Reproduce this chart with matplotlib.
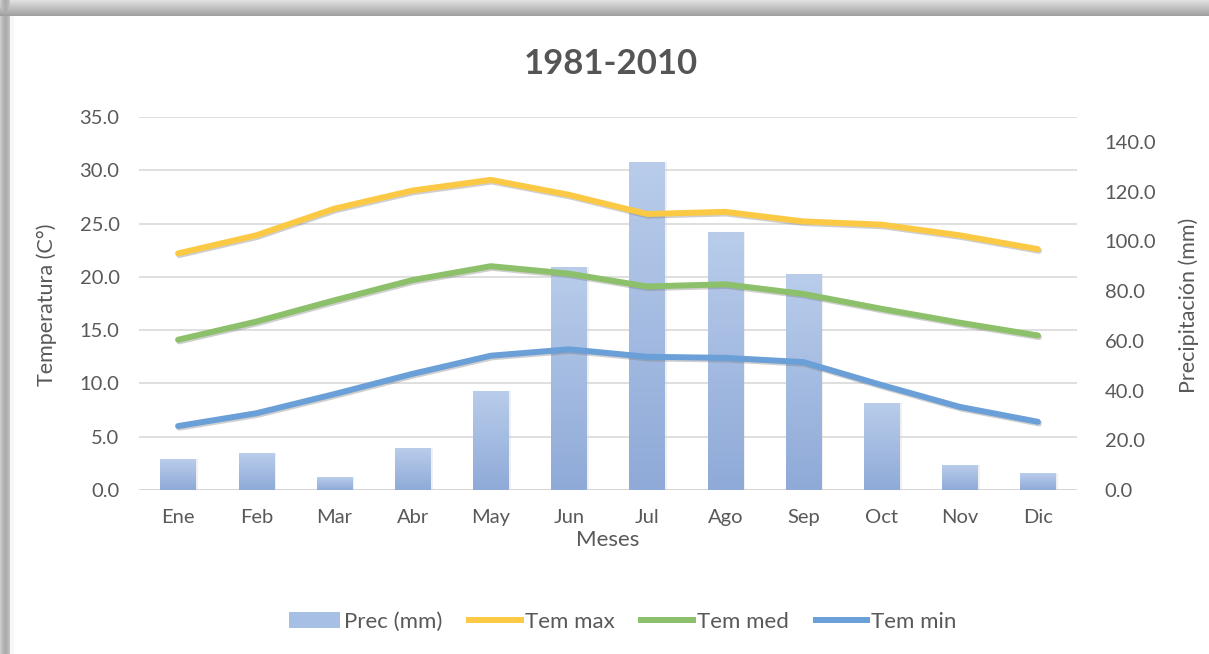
import numpy as np
import matplotlib
matplotlib.use("Agg")
import matplotlib.pyplot as plt
from matplotlib.lines import Line2D
from matplotlib.patches import Patch
from matplotlib.colors import LinearSegmentedColormap
import matplotlib.patheffects as pe

months = ["Ene", "Feb", "Mar", "Abr", "May", "Jun", "Jul", "Ago", "Sep", "Oct", "Nov", "Dic"]
prec = [12.4, 14.7, 5.1, 16.7, 39.9, 89.7, 131.9, 103.7, 87.0, 34.8, 10.0, 6.7]
tmax = [22.2, 23.9, 26.4, 28.1, 29.1, 27.7, 25.9, 26.1, 25.2, 24.9, 23.9, 22.6]
tmed = [14.1, 15.8, 17.8, 19.7, 21.0, 20.3, 19.1, 19.3, 18.4, 17.0, 15.7, 14.5]
tmin = [6.0, 7.2, 9.0, 10.9, 12.6, 13.2, 12.5, 12.4, 12.0, 9.85, 7.8, 6.4]
temp_ticks = [0, 5, 10, 15, 20, 25, 30, 35]
prec_ticks = [0, 20, 40, 60, 80, 100, 120, 140]

plt.rcParams['font.family'] = ['Lato', 'DejaVu Sans']
TXT = "#595959"
W, H = 1209, 654
fig = plt.figure(figsize=(W / 100, H / 100), dpi=100)

# background frame with soft shadow
bg = fig.add_axes([0, 0, 1, 1])
rows = np.arange(H)[:, None]
cols = np.arange(W)[None, :]
top = np.where(rows < 16, 0.88 - 0.25 * (rows / 15.0), 1.0)
left = np.where(cols < 10, 0.80 - 0.12 * np.sin(np.pi * cols / 10.0), 1.0)
shade = np.minimum(top, left)
shade = np.minimum(shade, np.where((cols >= 10) & (cols < 14) & (rows >= 16), 0.97, 1.0))
img = np.repeat(shade[:, :, None], 3, axis=2)
bg.imshow(img, extent=[0, 1, 0, 1], aspect='auto')
bg.axis('off')

rect = [139 / W, 1 - 490 / H, (1077 - 139) / W, (490 - 117) / H]
ax = fig.add_axes(rect)
ax2 = ax.twinx()
ax3 = ax.twinx()

x = np.arange(len(months))
TS = 14.5

# left axis: grid + ticks
ax.set_xlim(-0.5, len(months) - 0.5)
ax.set_ylim(0, 35)
ax.set_yticks(temp_ticks)
ax.set_yticklabels([f"{v:.1f}" for v in temp_ticks])
ax.yaxis.grid(True, color="#d9d9d9", linewidth=1.2)
ax.set_axisbelow(True)
for s in ax.spines.values():
    s.set_visible(False)
ax.tick_params(axis='y', length=0, pad=14, labelsize=TS, labelcolor=TXT)
ax.tick_params(axis='x', length=0, pad=14, labelsize=TS, labelcolor=TXT)
ax.set_xticks(x)
ax.set_xticklabels(months)
ax.axhline(0, color="#c8c8c8", linewidth=1.4, zorder=0.5)
ax.set_ylabel("Temperatura (C°)", fontsize=15.5, color=TXT)
ax.yaxis.set_label_coords(-0.0874, 0.496)
ax.set_xlabel("Meses", fontsize=16, color=TXT)
ax.xaxis.set_label_coords(0.5, -0.106)

# right axis: bars
ax2.set_ylim(0, 150)
ax2.set_yticks(prec_ticks)
ax2.set_yticklabels([f"{v:.1f}" for v in prec_ticks])
for s in ax2.spines.values():
    s.set_visible(False)
ax2.tick_params(axis='y', length=0, pad=20, labelsize=TS, labelcolor=TXT)
ax2.set_ylabel("Precipitación (mm)", fontsize=15.5, color=TXT)
ax2.yaxis.set_label_coords(1.1077, 0.496)
ax2.patch.set_visible(False)

bars = ax2.bar(x, prec, width=0.45, color="none", edgecolor="none")
grad = np.linspace(0, 1, 256)[:, None]
cmap = LinearSegmentedColormap.from_list("bg", ["#8faad8", "#b9cdeb"])
for b in bars:
    bx = b.get_x()
    bw, bh = b.get_width(), b.get_height()
    ax2.bar(bx + bw / 2 + 0.015, bh, width=bw + 0.03, bottom=0,
            color="#d0d0d0", alpha=0.3, edgecolor="none", zorder=1)
    im = ax2.imshow(grad, extent=[bx, bx + bw, 0, bh], origin='lower',
                    cmap=cmap, aspect='auto', zorder=2)
    im.set_clip_path(b)
ax2.set_xlim(-0.5, len(months) - 0.5)
ax2.set_ylim(0, 150)

# lines on top, same scale as left axis
ax3.set_ylim(0, 35)
ax3.set_xlim(-0.5, len(months) - 0.5)
ax3.axis('off')
shadow = [pe.SimpleLineShadow(offset=(0.8, -1.2), shadow_color="#777777", alpha=0.35), pe.Normal()]
c_max, c_med, c_min = "#fcc945", "#8cc06a", "#6a9fd8"
for vals, c in ((tmax, c_max), (tmed, c_med), (tmin, c_min)):
    ax3.plot(x, vals, color=c, linewidth=4.3, solid_capstyle='round',
             solid_joinstyle='round', path_effects=shadow)

# title
fig.text(0.505, 1 - 64 / H, "1981-2010", ha='center', va='center',
         fontsize=25, fontweight='bold', color="#555555")

handles = [Patch(facecolor="#a7bfe4", edgecolor="none"),
           Line2D([], [], color=c_max, linewidth=4.3),
           Line2D([], [], color=c_med, linewidth=4.3),
           Line2D([], [], color=c_min, linewidth=4.3)]
labels = ["Prec (mm)", "Tem max", "Tem med", "Tem min"]
fig.legend(handles, labels, loc='center', bbox_to_anchor=(0.515, 1 - 622 / H),
           ncol=4, frameon=False, fontsize=16, labelcolor=TXT,
           handlelength=2.3, handletextpad=0.2, columnspacing=1.2)

fig.savefig("out.png", dpi=100)
